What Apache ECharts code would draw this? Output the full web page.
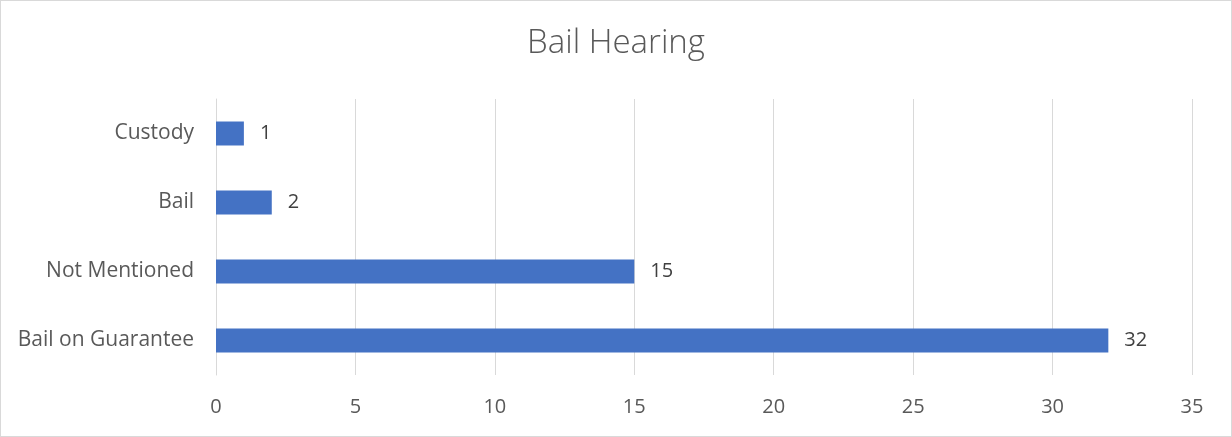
<!DOCTYPE html>
<html>
<head>
<meta charset="utf-8">
<script src="https://cdn.jsdelivr.net/npm/echarts@6/dist/echarts.min.js"></script>
<style>
  html, body { margin: 0; padding: 0; background: #fff; }
  #chart { width: 1232px; height: 437px; box-sizing: border-box; border: 1px solid #d9d9d9; }
</style>
</head>
<body>
<div id="chart"></div>
<script>
// Bail hearing outcomes, counted per case
const categories = ['Bail on Guarantee', 'Not Mentioned', 'Bail', 'Custody'];
const counts = [32, 15, 2, 1];
const xTicks = { min: 0, max: 35, interval: 5 };

const textColor = '#595959';
const fontFamily = '"Open Sans", "Noto Sans", sans-serif';

const chart = echarts.init(document.getElementById('chart'));
chart.setOption({
  animation: false,
  title: {
    text: 'Bail Hearing',
    left: 'center',
    top: 21,
    textStyle: { color: textColor, fontSize: 33, fontWeight: 300, fontFamily }
  },
  grid: { left: 215, right: 39, top: 98, bottom: 61, containLabel: false },
  xAxis: {
    type: 'value',
    min: xTicks.min,
    max: xTicks.max,
    interval: xTicks.interval,
    axisLine: { show: false },
    axisTick: { show: false },
    splitLine: { lineStyle: { color: '#d9d9d9', width: 1 } },
    axisLabel: { color: textColor, fontSize: 20, fontFamily, margin: 22 }
  },
  yAxis: {
    type: 'category',
    data: categories,
    axisLine: { show: true, lineStyle: { color: '#d9d9d9' } },
    axisTick: { show: false },
    axisLabel: { color: textColor, fontSize: 21, fontFamily, margin: 22 }
  },
  series: [{
    type: 'bar',
    data: counts,
    barWidth: 24,
    itemStyle: { color: '#4472C4' },
    label: {
      show: true,
      position: 'right',
      distance: 16,
      color: '#404040',
      fontSize: 20,
      fontFamily
    }
  }]
});
</script>
</body>
</html>
